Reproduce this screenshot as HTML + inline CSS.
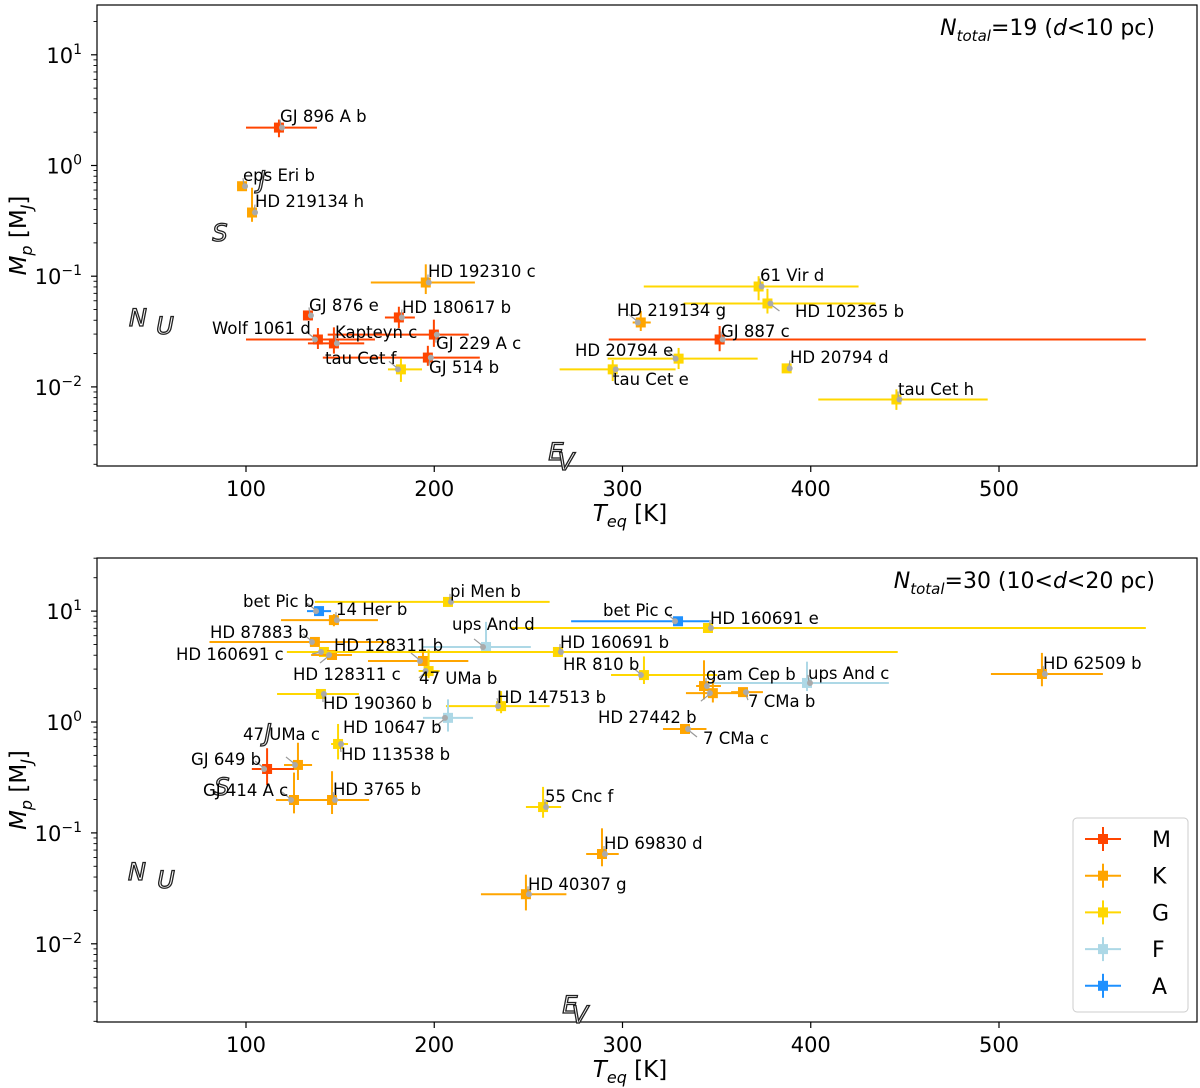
<!DOCTYPE html>
<html><head><meta charset="utf-8"><style>
body{margin:0;background:#fff}
svg{display:block;font-family:"DejaVu Sans","Liberation Sans",sans-serif}
</style></head><body>
<svg id="chart" width="1200" height="1088" viewBox="0 0 1200 1088"></svg>
<script>
// ---------- DATA ----------
const topNames=["GJ 896 A b","eps Eri b","HD 219134 h","HD 192310 c","GJ 876 e","HD 180617 b","Wolf 1061 d","Kapteyn c","GJ 229 A c","GJ 514 b","tau Cet f","61 Vir d","HD 102365 b","HD 219134 g","GJ 887 c","HD 20794 e","tau Cet e","HD 20794 d","tau Cet h"];
const topType=["M","K","K","K","M","M","M","M","M","M","G","G","G","K","M","G","G","G","G"];
const topT=[117.5,97.9,103.2,195.5,132.9,181.2,138.2,146.7,199.8,196.6,182.3,372.3,377,309.7,351.6,329.8,294.8,387.2,445.5];
const topTlo=[100,95.3,101.5,166.3,130.8,173.8,100,132.9,143.4,140.8,175.4,311.3,332.5,305.4,292.7,292.1,266.6,385,404];
const topThi=[137.7,100.5,104.8,221.6,135.4,189.7,168.5,162.8,218.3,224.2,193.5,425.4,434.4,315,578,371.8,328.2,389.2,494];
const topM=[2.2,0.65,0.376,0.0877,0.0442,0.0424,0.0268,0.0247,0.0297,0.0184,0.0144,0.0807,0.0567,0.0382,0.0268,0.018,0.0144,0.0147,0.0077];
const topMlo=[1.8,0.6,0.31,0.069,0.041,0.034,0.022,0.02,0.023,0.0155,0.0111,0.0606,0.046,0.032,0.021,0.0145,0.0113,0.014,0.0062];
const topMhi=[2.6,0.7,0.63,0.128,0.048,0.053,0.034,0.0345,0.0405,0.0235,0.0181,0.1,0.077,0.0485,0.0355,0.0225,0.0175,0.0155,0.0095];

const botNames=["bet Pic b","14 Her b","pi Men b","bet Pic c","HD 160691 e","HD 87883 b","ups And d","HD 160691 c","HD 128311 c","HD 160691 b","HD 128311 b","47 UMa b","HR 810 b","HD 62509 b","ups And c","gam Cep b","HD 27442 b","7 CMa b","HD 190360 b","HD 147513 b","HD 10647 b","7 CMa c","HD 113538 b","47 UMa c","GJ 649 b","GJ 414 A c","HD 3765 b","55 Cnc f","HD 69830 d","HD 40307 g"];
const botType=["A","K","G","A","G","K","F","G","K","G","K","G","G","K","F","K","K","K","G","G","F","K","G","K","M","K","K","G","K","K"];
const botT=[138.8,146.7,207.3,329.5,345.4,136.6,227.5,141.4,145.7,265.7,194,197,311.4,522.8,398,343.3,348,364,139.8,235.5,207.3,333.2,148.9,127.6,111.2,125.5,145.7,257.8,289.1,248.7];
const botTlo=[132.4,118.6,136.6,272.7,240.8,80.6,193.4,139,134.6,121.7,164.8,191.7,293.9,495.7,341.3,339.1,333.7,357.7,116.5,206.2,194,321.5,145.2,120.2,103.1,115.9,125.5,248.7,280.7,224.8];
const botThi=[145.2,170.1,261.3,346,578,176.1,251.3,152.1,156.3,446.2,218.1,202.9,350.3,555.2,441.5,352.3,363.9,374.6,160,261.3,220.6,344.6,154.2,135.1,125.5,134.1,165.4,267.4,298,270.2];
const botM=[10,8.3,12.1,8.1,7.04,5.27,4.75,4.28,4.02,4.28,3.55,2.88,2.65,2.71,2.25,2.11,1.82,1.86,1.79,1.39,1.09,0.865,0.634,0.41,0.377,0.198,0.198,0.171,0.0645,0.028];
const botMlo=[9.6,7.3,11.5,7.8,6.8,5.0,4.5,4.1,3.8,4.1,3.2,2.5,2.2,2.1,1.9,1.6,1.5,1.7,1.7,1.2,0.82,0.82,0.46,0.3,0.27,0.15,0.148,0.137,0.05,0.02];
const botMhi=[10.4,9.4,12.8,8.4,7.3,5.5,8.0,4.5,4.2,4.5,4.3,4.5,3.9,4.2,3.5,3.6,2.4,2.0,1.9,1.9,1.6,0.91,0.96,0.65,0.58,0.35,0.36,0.26,0.11,0.042];

const xTicks=[100,200,300,400,500];
const yExps=[1,0,-1,-2];
const legendTypes=["M","K","G","F","A"];

// ---------- LAYOUT (not data) ----------
const colors={M:"#ff4500",K:"#ffa500",G:"#ffd700",F:"#add8e6",A:"#1e90ff"};
const topLab=[[280,122],[243,181],[255,207],[428,277],[309,311],[402,313],[212,334],[335,338],[436,349],[429,373],[325,364],[760,281],[795,317],[617,316],[721,337],[575,356],[613,385],[790,363],[898,395]];
const botLab=[[243,607],[336,615],[450,597],[603,616],[710,624],[210,638],[452,630],[176,660],[293,680],[560,648],[334,651],[419,684],[563,670],[1043,669],[808,679],[706,680],[598,723],[748,707],[323,709],[497,703],[343,733],[703,744],[341,760],[243,740],[191,765],[203,796],[333,795],[545,802],[604,849],[528,890]];
const L=97,R=1197;
function xs(T){return 246+(T-100)*1.8825;}
const panels=[
 {top:5,bot:466,y1:165.5,dp:110.7,names:topNames,type:topType,T:topT,Tlo:topTlo,Thi:topThi,M:topM,Mlo:topMlo,Mhi:topMhi,lab:topLab,title:"19 (",titleD:"d",titleEnd:"<10 pc)",id:"top",ss:[["J",262,180],["S",220,233],["N",138,318],["U",165,326],["E",556,452],["V",566,462]]},
 {top:558,bot:1022,y1:722,dp:110.9,names:botNames,type:botType,T:botT,Tlo:botTlo,Thi:botThi,M:botM,Mlo:botMlo,Mhi:botMhi,lab:botLab,title:"30 (10<",titleD:"d",titleEnd:"<20 pc)",id:"bottom",ss:[["J",268,733],["S",222,787],["N",137,872],["U",166,880],["E",570,1005],["V",580,1015]]}
];
const svg=document.getElementById('chart');
const NS="http://www.w3.org/2000/svg";
function mk(tag,attrs,parent,text){const e=document.createElementNS(NS,tag);for(const k in attrs)e.setAttribute(k,attrs[k]);if(text!==undefined)e.textContent=text;(parent||svg).appendChild(e);return e;}

panels.forEach(p=>{
  const g=mk('g',{});
  
  
  const ys=M=>p.y1-Math.log10(M)*p.dp;
  const fr=mk('rect',{x:L,y:p.top,width:R-L,height:p.bot-p.top,fill:'none',stroke:'#000','stroke-width':1.2},g);
  
  
  xTicks.forEach(t=>{
    const x=xs(t);
    mk('line',{x1:x,x2:x,y1:p.bot,y2:p.bot+6,stroke:'#000','stroke-width':1.2},g);
    const tl=mk('text',{x:x,y:p.bot+30,'font-size':21,'text-anchor':'middle'},g,String(t));
    
    
  });
  for(let e=-3;e<=2;e++){
    for(let m=1;m<10;m++){
      const y=ys(m*Math.pow(10,e));
      if(y<p.top||y>p.bot)continue;
      mk('line',{x1:L-(m==1?6:3.5),x2:L,y1:y,y2:y,stroke:'#000','stroke-width':m==1?1.2:0.9},g);
    }
  }
  yExps.forEach(e=>{
    const y=ys(Math.pow(10,e));
    const t=mk('text',{x:82,y:y+8,'font-size':21,'text-anchor':'end'},g);
    
    
    mk('tspan',{},t,'10');
    mk('tspan',{dy:-9,'font-size':14},t,String(e).replace('-','\u2212'));
  });
  const xt=mk('text',{x:630,y:p.bot+55,'font-size':23,'text-anchor':'middle'},g);
  
  
  mk('tspan',{'font-style':'italic'},xt,'T');
  mk('tspan',{dy:6,'font-size':16,'font-style':'italic'},xt,'eq');
  mk('tspan',{dy:-6},xt,' [K]');
  const cy=(p.top+p.bot)/2;
  const yt=mk('text',{x:0,y:0,'font-size':23,'text-anchor':'middle',transform:`translate(26,${cy}) rotate(-90)`},g);
  
  
  mk('tspan',{'font-style':'italic'},yt,'M');
  mk('tspan',{dy:6,'font-size':16,'font-style':'italic'},yt,'p');
  mk('tspan',{dy:-6},yt,' [M');
  mk('tspan',{dy:6,'font-size':16,'font-style':'italic'},yt,'J');
  mk('tspan',{dy:-6},yt,']');
  const tt=mk('text',{x:1155,y:p.top+30,'font-size':22,'text-anchor':'end'},g);
  
  
  mk('tspan',{'font-style':'italic'},tt,'N');
  mk('tspan',{dy:6,'font-size':15,'font-style':'italic'},tt,'total');
  mk('tspan',{dy:-6},tt,'='+p.title);
  mk('tspan',{'font-style':'italic'},tt,p.titleD);
  mk('tspan',{},tt,p.titleEnd);
  p.ss.forEach(s=>{
    const t=mk('text',{x:s[1],y:s[2]+8,'font-size':24,'font-style':'italic',fill:'#fff',stroke:'#222','stroke-width':1.3,'text-anchor':'middle'},g,s[0]);
    
    
  });
  p.names.forEach((n,i)=>{
    const c=colors[p.type[i]];
    const x=xs(p.T[i]),y=ys(p.M[i]);
    const pg=mk('g',{},g);
    
    
    mk('line',{x1:xs(p.Tlo[i]),x2:xs(p.Thi[i]),y1:y,y2:y,stroke:c,'stroke-width':2},pg);
    mk('line',{x1:x,x2:x,y1:ys(p.Mlo[i]),y2:ys(p.Mhi[i]),stroke:c,'stroke-width':2},pg);
    mk('rect',{x:x-5,y:y-5,width:10,height:10,fill:c},pg);
  });
  p.names.forEach((n,i)=>{
    const x=xs(p.T[i]),y=ys(p.M[i]);
    const lx=p.lab[i][0],ly=p.lab[i][1];
    const ax=Math.max(Math.min(lx,x+12),x-12), ay=Math.max(Math.min(ly-6,y+8),y-8);
    mk('line',{x1:ax,y1:ay,x2:x+(ax>x?2:-2),y2:y,stroke:'#999','stroke-width':1.2},g);
    mk('circle',{cx:x+(ax>x?3:-3),cy:y,r:3,fill:'#aaa'},g);
    const t=mk('text',{x:lx,y:ly,'font-size':16.5},g,n);
    
    
  });
});
const lg=mk('g',{});


mk('rect',{x:1073,y:818,width:115,height:194,rx:4,fill:'#fff','fill-opacity':0.85,stroke:'#ccc'},lg);
legendTypes.forEach((t,i)=>{
  const y=839+i*36.7,c=colors[t];
  const e=mk('g',{},lg);
  
  
  mk('line',{x1:1085,x2:1121,y1:y,y2:y,stroke:c,'stroke-width':2},e);
  mk('line',{x1:1103,x2:1103,y1:y-12,y2:y+12,stroke:c,'stroke-width':2},e);
  mk('rect',{x:1098,y:y-5,width:10,height:10,fill:c},e);
  mk('text',{x:1152,y:y+8,'font-size':22},e,t);
});
</script>
</body></html>
